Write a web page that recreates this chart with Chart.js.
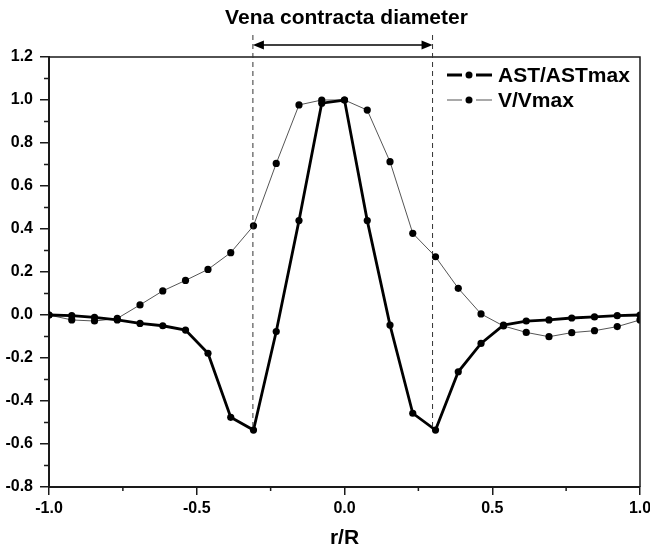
<!DOCTYPE html>
<html>
<head>
<meta charset="utf-8">
<script src="https://cdn.jsdelivr.net/npm/chart.js@4"></script>
<style>
  html, body { margin: 0; padding: 0; background: #fff; }
  #wrap { width: 650px; height: 554px; }
</style>
</head>
<body>
<div id="wrap"><canvas id="chart" width="650" height="554"></canvas></div>
<script>
// radial position r/R
const rPos = [-1.0, -0.923, -0.846, -0.769, -0.692, -0.615, -0.538, -0.462, -0.385, -0.308, -0.231, -0.154, -0.077,
  0.0, 0.077, 0.154, 0.231, 0.308, 0.385, 0.462, 0.538, 0.615, 0.692, 0.769, 0.846, 0.923, 1.0];

// AST/ASTmax (thick line)
const astNorm = [0.0, -0.003, -0.011, -0.023, -0.039, -0.05, -0.07, -0.178, -0.476, -0.535, -0.077, 0.439, 0.985,
  1.0, 0.439, -0.047, -0.457, -0.535, -0.264, -0.132, -0.047, -0.028, -0.023, -0.014, -0.009, -0.003, 0.0];

// V/Vmax (thin line)
const velNorm = [0.0, -0.023, -0.028, -0.016, 0.047, 0.112, 0.161, 0.212, 0.29, 0.415, 0.705, 0.977, 1.0,
  1.0, 0.953, 0.713, 0.38, 0.271, 0.124, 0.005, -0.051, -0.081, -0.101, -0.082, -0.073, -0.054, -0.023];

const seriesNames = ['AST/ASTmax', 'V/Vmax'];
const venaEdges = [-0.31, 0.298];    // vena contracta limits
const venaDepth = -0.535;            // dashed lines stop at the AST minimum
const titleText = 'Vena contracta diameter';
const xTitle = 'r/R';

const xMinor = [-0.75, -0.25, 0.25, 0.75];
const yMinor = [-0.7, -0.5, -0.3, -0.1, 0.1, 0.3, 0.5, 0.7, 0.9, 1.1];

const toPts = (ys) => rPos.map((x, i) => ({ x: x, y: ys[i] }));
const fmt = (v) => (Math.abs(v) < 1e-9 ? 0 : v).toFixed(1);
const AXIS = '#1a1a1a';
const FAMILY = '"Liberation Sans", Arial, sans-serif';
const BOLD = 'bold 21px ' + FAMILY;

// frame, minor ticks, vena contracta marks, title and legend
const decorations = {
  id: 'decorations',
  afterDraw(chart) {
    const { ctx, chartArea: a, scales } = chart;
    const xs = scales.x, ys = scales.y;
    ctx.save();

    // top and right frame lines
    ctx.strokeStyle = AXIS;
    ctx.lineWidth = 1.5;
    ctx.beginPath();
    ctx.moveTo(a.left, a.top);
    ctx.lineTo(a.right, a.top);
    ctx.lineTo(a.right, a.bottom);
    ctx.stroke();

    // minor ticks
    ctx.beginPath();
    xMinor.forEach((v) => {
      const px = xs.getPixelForValue(v);
      ctx.moveTo(px, a.bottom);
      ctx.lineTo(px, a.bottom + 4);
    });
    yMinor.forEach((v) => {
      const py = ys.getPixelForValue(v);
      ctx.moveTo(a.left - 5, py);
      ctx.lineTo(a.left, py);
    });
    ctx.stroke();

    // dashed vena contracta lines
    const x1 = xs.getPixelForValue(venaEdges[0]);
    const x2 = xs.getPixelForValue(venaEdges[1]);
    const yEnd = ys.getPixelForValue(venaDepth);
    ctx.strokeStyle = '#333';
    ctx.lineWidth = 1;
    ctx.setLineDash([5, 4]);
    ctx.beginPath();
    ctx.moveTo(x1, 35);
    ctx.lineTo(x1, yEnd);
    ctx.moveTo(x2, 35);
    ctx.lineTo(x2, yEnd);
    ctx.stroke();
    ctx.setLineDash([]);

    // double arrow
    const ay = 45;
    ctx.strokeStyle = '#000';
    ctx.fillStyle = '#000';
    ctx.lineWidth = 1.5;
    ctx.beginPath();
    ctx.moveTo(x1 + 8, ay);
    ctx.lineTo(x2 - 8, ay);
    ctx.stroke();
    ctx.beginPath();
    ctx.moveTo(x1, ay);
    ctx.lineTo(x1 + 11, ay - 4.5);
    ctx.lineTo(x1 + 11, ay + 4.5);
    ctx.closePath();
    ctx.moveTo(x2, ay);
    ctx.lineTo(x2 - 11, ay - 4.5);
    ctx.lineTo(x2 - 11, ay + 4.5);
    ctx.closePath();
    ctx.fill();

    // title
    ctx.font = BOLD;
    ctx.textAlign = 'center';
    ctx.textBaseline = 'middle';
    ctx.fillText(titleText, (a.left + a.right) / 2 + 2, 18);

    // legend
    ctx.textAlign = 'left';
    chart.data.datasets.forEach((ds, i) => {
      const ly = 75 + i * 25;
      ctx.strokeStyle = ds.borderColor;
      ctx.lineWidth = ds.borderWidth;
      ctx.beginPath();
      ctx.moveTo(447, ly);
      ctx.lineTo(462, ly);
      ctx.moveTo(476, ly);
      ctx.lineTo(492, ly);
      ctx.stroke();
      ctx.fillStyle = '#000';
      ctx.beginPath();
      ctx.arc(469, ly, 3.5, 0, Math.PI * 2);
      ctx.fill();
      ctx.fillText(ds.label, 498, ly + 1);
    });

    ctx.restore();
  }
};

new Chart(document.getElementById('chart').getContext('2d'), {
  type: 'line',
  data: {
    datasets: [
      {
        label: seriesNames[0],
        data: toPts(astNorm),
        borderColor: '#000',
        borderWidth: 2.8,
        pointRadius: 3.6,
        pointBackgroundColor: '#000',
        pointBorderWidth: 0,
        tension: 0
      },
      {
        label: seriesNames[1],
        data: toPts(velNorm),
        borderColor: '#555',
        borderWidth: 1,
        pointRadius: 3.6,
        pointBackgroundColor: '#000',
        pointBorderWidth: 0,
        tension: 0
      }
    ]
  },
  options: {
    responsive: false,
    animation: false,
    layout: { padding: { left: 0, right: 10, top: 57, bottom: 0 } },
    plugins: {
      legend: { display: false },
      tooltip: { enabled: false }
    },
    scales: {
      x: {
        type: 'linear',
        min: -1,
        max: 1,
        ticks: {
          stepSize: 0.5,
          padding: 4,
          color: '#000',
          font: { family: FAMILY, size: 16, weight: 'bold' },
          callback: (v) => fmt(v)
        },
        grid: { drawOnChartArea: false, drawTicks: true, tickLength: 8, color: AXIS, lineWidth: 1.5 },
        border: { display: true, color: AXIS, width: 2 },
        title: {
          display: true,
          text: xTitle,
          color: '#000',
          padding: { top: 0, bottom: 3 },
          font: { family: FAMILY, size: 21, weight: 'bold' }
        },
        afterFit(scale) {
          scale.height = 67;
          scale.paddingLeft = 0;
          scale.paddingRight = 0;
        }
      },
      y: {
        min: -0.8,
        max: 1.2,
        ticks: {
          stepSize: 0.2,
          padding: 7,
          color: '#000',
          font: { family: FAMILY, size: 16, weight: 'bold' },
          callback: (v) => fmt(v)
        },
        grid: { drawOnChartArea: false, drawTicks: true, tickLength: 9, color: AXIS, lineWidth: 1.5 },
        border: { display: true, color: AXIS, width: 2 },
        afterFit(scale) {
          scale.width = 49;
          scale.paddingTop = 0;
          scale.paddingBottom = 0;
        }
      }
    }
  },
  plugins: [decorations]
});
</script>
</body>
</html>
